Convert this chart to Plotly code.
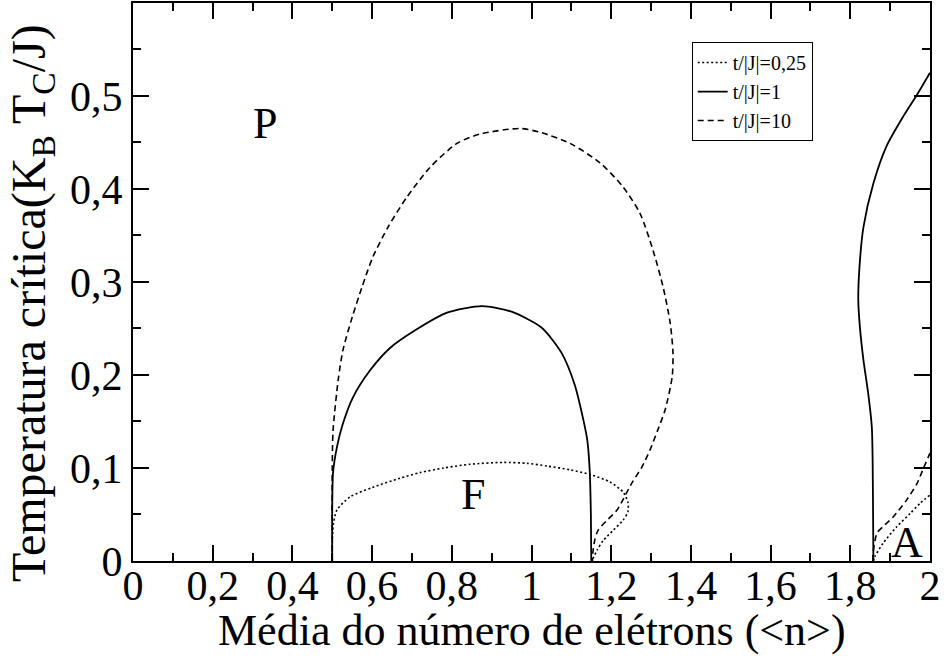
import plotly.graph_objects as go

# ---- data ----
# t/|J| = 0.25 (dotted): dome segment, gap, right branch
n_025 = [0.5, 0.5, 0.503, 0.512, 0.545, 0.6, 0.67, 0.72, 0.78, 0.846, 0.93, 0.99, 1.04,
         1.097, 1.147, 1.197, 1.23, 1.242, 1.242, 1.23, 1.205, 1.18, 1.165, 1.155, 1.153,
         None,
         1.857, 1.862, 1.882, 1.917, 1.95, 1.975, 2.0]
tc_025 = [0.0, 0.02, 0.04, 0.055, 0.069, 0.079, 0.089, 0.095, 0.1, 0.104, 0.106, 0.105, 0.102,
          0.098, 0.093, 0.085, 0.074, 0.063, 0.053, 0.044, 0.033, 0.022, 0.012, 0.003, 0.0,
          None,
          0.0, 0.005, 0.019, 0.037, 0.051, 0.062, 0.071]

# t/|J| = 1 (solid)
n_1 = [0.5, 0.5, 0.502, 0.512, 0.527, 0.552, 0.595, 0.645, 0.708, 0.788, 0.876, 0.95,
       1.025, 1.075, 1.108, 1.13, 1.14, 1.146, 1.149, 1.15,
       None,
       1.858, 1.857, 1.856, 1.854, 1.845, 1.833, 1.824, 1.82, 1.823, 1.833, 1.858, 1.891,
       1.933, 1.967, 2.0]
tc_1 = [0.0, 0.06, 0.095, 0.123, 0.148, 0.176, 0.205, 0.229, 0.248, 0.267, 0.274, 0.268,
        0.251, 0.224, 0.19, 0.152, 0.13, 0.098, 0.05, 0.0,
        None,
        0.0, 0.06, 0.109, 0.144, 0.18, 0.216, 0.252, 0.281, 0.316, 0.359, 0.406, 0.446,
        0.478, 0.501, 0.525]

# t/|J| = 10 (dashed)
n_10 = [0.5, 0.5, 0.502, 0.515, 0.527, 0.55, 0.575, 0.602, 0.64, 0.687, 0.745, 0.813, 0.871,
        0.971, 1.021, 1.097, 1.172, 1.23, 1.272, 1.305, 1.33, 1.348, 1.355, 1.353, 1.335,
        1.317, 1.297, 1.277, 1.252, 1.215, 1.19, 1.167, 1.159, 1.154, 1.153,
        None,
        1.857, 1.857, 1.867, 1.882, 1.907, 1.942, 1.967, 1.982, 2.0]
tc_10 = [0.0, 0.1, 0.14, 0.195, 0.227, 0.262, 0.295, 0.327, 0.359, 0.391, 0.423, 0.449, 0.459,
         0.465, 0.461, 0.449, 0.428, 0.402, 0.374, 0.334, 0.295, 0.256, 0.224, 0.198, 0.162,
         0.141, 0.119, 0.101, 0.084, 0.055, 0.044, 0.033, 0.023, 0.009, 0.0,
         None,
         0.0, 0.008, 0.03, 0.037, 0.047, 0.066, 0.083, 0.098, 0.116]

series_names = ["t/|J|=0,25", "t/|J|=1", "t/|J|=10"]

# region labels
region_text = ["P", "F", "A"]
region_n = [0.331, 0.853, 1.943]
region_tc = [0.470, 0.072, 0.020]

FONT = "Liberation Serif, Times New Roman, serif"

fig = go.Figure()
fig.add_trace(go.Scatter(x=n_025, y=tc_025, mode="lines", name=series_names[0],
                         line=dict(color="black", width=1.6, dash="2px,2.5px",
                                   shape="spline", smoothing=0.7),
                         connectgaps=False))
fig.add_trace(go.Scatter(x=n_1, y=tc_1, mode="lines", name=series_names[1],
                         line=dict(color="black", width=1.8, dash="solid",
                                   shape="spline", smoothing=0.7),
                         connectgaps=False))
fig.add_trace(go.Scatter(x=n_10, y=tc_10, mode="lines", name=series_names[2],
                         line=dict(color="black", width=1.6, dash="6px,4px",
                                   shape="spline", smoothing=0.7),
                         connectgaps=False))

for t, xn, yt in zip(region_text, region_n, region_tc):
    fig.add_annotation(x=xn, y=yt, text=t, showarrow=False,
                       font=dict(family=FONT, size=44, color="black"),
                       xanchor="center", yanchor="middle")

# y-axis title as a rotated annotation (placed like the reference)
fig.add_annotation(xref="paper", yref="paper", x=-0.127, y=0.462,
                   text="Temperatura crítica(K<sub>B</sub> T<sub>C</sub>/J)",
                   textangle=-90, showarrow=False,
                   font=dict(family=FONT, size=48, color="black"),
                   xanchor="center", yanchor="middle")

# x-axis title as annotation
fig.add_annotation(xref="paper", yref="paper", x=0.5, y=-0.125,
                   text="Média do número de elétrons (<n>)",
                   showarrow=False,
                   font=dict(family=FONT, size=44, color="black"),
                   xanchor="center", yanchor="middle")

axis_common = dict(
    showgrid=False, zeroline=False, showline=True, linecolor="black", linewidth=2,
    mirror="allticks", ticks="inside", ticklen=16, tickwidth=1.5, tickcolor="black",
    tickfont=dict(family=FONT, size=42, color="black"), automargin=False,
)

fig.update_layout(
    width=944, height=657,
    margin=dict(l=133, r=14, t=3, b=96),
    plot_bgcolor="white", paper_bgcolor="white",
    separators=",.",
    font=dict(family=FONT, color="black"),
    xaxis=dict(range=[0, 2], tickmode="linear", tick0=0, dtick=0.2,
               ticklabelstandoff=-13,
               minor=dict(dtick=0.1, ticklen=8, tickwidth=1.5, tickcolor="black",
                          ticks="inside", showgrid=False),
               **axis_common),
    yaxis=dict(range=[0, 0.5999], tickmode="linear", tick0=0, dtick=0.1,
               minor=dict(dtick=0.05, ticklen=8, tickwidth=1.5, tickcolor="black",
                          ticks="inside", showgrid=False),
               **axis_common),
    legend=dict(x=0.701, y=0.93, xanchor="left", yanchor="top",
                bordercolor="black", borderwidth=1, bgcolor="white",
                font=dict(family=FONT, size=20, color="black"),
                itemwidth=30, tracegroupgap=0,
                entrywidth=140, entrywidthmode="pixels"),
    showlegend=True,
)

fig.write_html("out.html")
